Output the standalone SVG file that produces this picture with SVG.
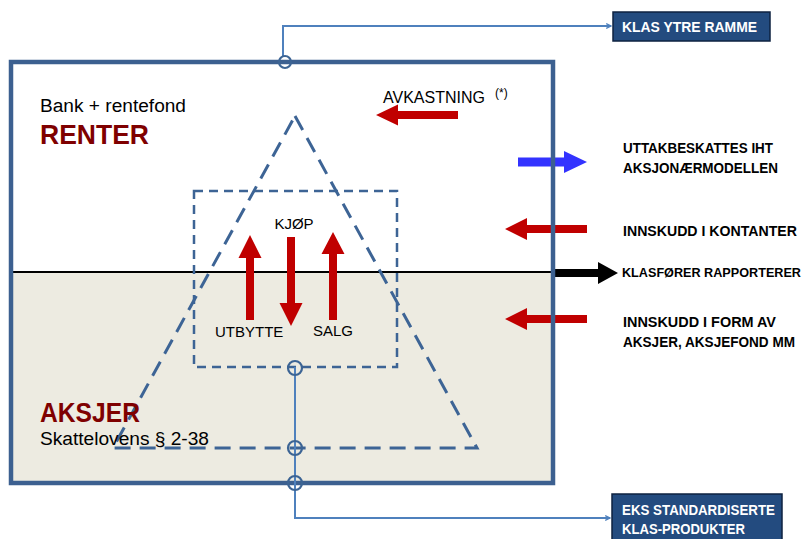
<svg xmlns="http://www.w3.org/2000/svg" width="809" height="539" viewBox="0 0 809 539">
<defs>
<style>
.sans{font-family:"Liberation Sans",Arial,sans-serif}
.lbl{font-family:"Liberation Sans",Arial,sans-serif;font-weight:bold;font-size:14px;fill:#000}
.head{font-family:"Liberation Sans",Arial,sans-serif;font-weight:bold;font-size:28px;fill:#7F0000}
.red{fill:#C00000}
.conn{fill:none;stroke:#4F81BD;stroke-width:2}
.ring{fill:none;stroke:#3C6494;stroke-width:2.2}
.tri{fill:none;stroke:#3D6495;stroke-width:3;stroke-dasharray:16 9}
.box{fill:none;stroke:#3D6495;stroke-width:2.5;stroke-dasharray:9 6}
.tag{fill:#234B7F;stroke:#0E2240;stroke-width:1.5}
.tagt{font-family:"Liberation Sans",Arial,sans-serif;font-weight:bold;font-size:14px;fill:#fff}
</style>
<marker id="ah" viewBox="0 0 10 10" refX="9" refY="5" markerWidth="6" markerHeight="6" orient="auto" markerUnits="userSpaceOnUse">
<path d="M1,1 L9,5 L1,9" fill="none" stroke="#4F81BD" stroke-width="2"/>
</marker>
</defs>
<rect width="809" height="539" fill="#fff"/>
<!-- background split -->
<rect x="10" y="272" width="545" height="211" fill="#EDEBE1"/>
<line x1="10" y1="272" x2="600" y2="272" stroke="#000" stroke-width="2"/>

<!-- right side arrows -->
<g id="arrows-side">
<polygon points="518,157.5 564,157.5 564,151 587,162 564,173 564,166.5 518,166.5" fill="#3333FF"/>
<polygon class="red" points="505,229 527,218 527,225 587,225 587,233 527,233 527,240"/>
<polygon points="555,269 598,269 598,262 618,273 598,284 598,277 555,277" fill="#000"/>
<polygon class="red" points="505,319 527,308 527,315 587,315 587,323 527,323 527,330"/>
</g>

<!-- outer frame -->
<g id="frame">
<rect x="11" y="62" width="542" height="421" fill="none" stroke="#3C6090" stroke-width="4.5"/>
</g>

<g id="triangle">
<polygon class="tri" points="295,116 477,448 113,448"/>
</g>
<g id="innerbox">
<rect class="box" x="194" y="191" width="203" height="176"/>
</g>

<g id="labels">
<text class="sans" x="40" y="112" font-size="18" textLength="146" lengthAdjust="spacingAndGlyphs">Bank + rentefond</text>
<text class="head" x="40" y="144" textLength="109" lengthAdjust="spacingAndGlyphs">RENTER</text>
<text class="head" x="40" y="422" textLength="100" lengthAdjust="spacingAndGlyphs">AKSJER</text>
<text class="sans" x="40" y="445" font-size="18" textLength="169" lengthAdjust="spacingAndGlyphs">Skattelovens § 2-38</text>
</g>

<g id="avkastning">
<text class="sans" x="383" y="103" font-size="16">AVKASTNING</text>
<text class="sans" x="495" y="97" font-size="12">(*)</text>
<polygon class="red" points="376,115 398,104.5 398,111 458,111 458,119 398,119 398,125.5"/>
</g>

<g id="trade">
<polygon class="red" points="250,235 261.5,258 254,258 254,320 246,320 246,258 238.5,258"/>
<polygon class="red" points="291,326 302.5,303 295,303 295,237 287,237 287,303 279.5,303"/>
<polygon class="red" points="333,232 344.5,254 337,254 337,320 329,320 329,254 321.5,254"/>
<text class="sans" x="294" y="229" font-size="15" text-anchor="middle">KJØP</text>
<text class="sans" x="215" y="337" font-size="15">UTBYTTE</text>
<text class="sans" x="313" y="336" font-size="15">SALG</text>
</g>

<g id="side-labels">
<text class="lbl" x="623" y="153" textLength="150" lengthAdjust="spacingAndGlyphs">UTTAKBESKATTES IHT</text>
<text class="lbl" x="623" y="173" textLength="155" lengthAdjust="spacingAndGlyphs">AKSJONÆRMODELLEN</text>
<text class="lbl" x="623" y="236" textLength="174" lengthAdjust="spacingAndGlyphs">INNSKUDD I KONTANTER</text>
<text class="lbl" x="622" y="277" style="font-size:12.8px" textLength="179" lengthAdjust="spacingAndGlyphs">KLASFØRER RAPPORTERER</text>
<text class="lbl" x="623" y="327" textLength="153" lengthAdjust="spacingAndGlyphs">INNSKUDD I FORM AV</text>
<text class="lbl" x="623" y="347" textLength="172" lengthAdjust="spacingAndGlyphs">AKSJER, AKSJEFOND MM</text>
</g>

<g id="connectors">
<polyline class="conn" points="283,57 283,26 611,26" marker-end="url(#ah)"/>
<polyline class="conn" points="295,367 295,518 610,518" marker-end="url(#ah)"/>
<circle class="ring" cx="285" cy="62" r="6"/>
<circle class="ring" cx="295" cy="368" r="7"/>
<circle class="ring" cx="295" cy="448" r="7"/>
<circle class="ring" cx="295" cy="483" r="7"/>
</g>

<g id="klas-ytre">
<rect class="tag" x="613" y="12" width="157" height="29"/>
<text class="tagt" x="622" y="32" textLength="135" lengthAdjust="spacingAndGlyphs">KLAS YTRE RAMME</text>
</g>
<g id="eks-standard">
<rect class="tag" x="612" y="494" width="170" height="50"/>
<text class="tagt" x="622" y="515" textLength="153" lengthAdjust="spacingAndGlyphs">EKS STANDARDISERTE</text>
<text class="tagt" x="622" y="534" textLength="123" lengthAdjust="spacingAndGlyphs">KLAS-PRODUKTER</text>
</g>
</svg>
